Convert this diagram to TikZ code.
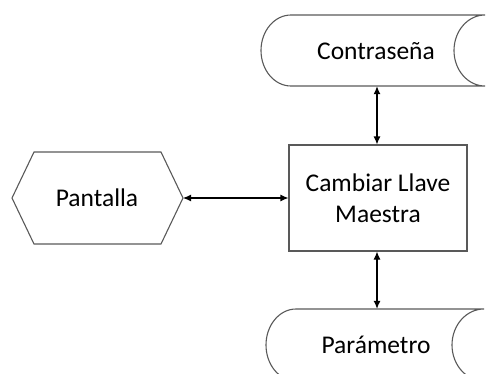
\documentclass[tikz,border=0pt]{standalone}
\usepackage{fontspec}
\setmainfont{Carlito}
\usetikzlibrary{arrows.meta}
\tikzset{
  outline/.style={draw=black!65, line width=1.1pt},
  lbl/.style={font=\fontsize{25.5}{30}\selectfont, align=center, inner sep=0pt},
  conn/.style={black, line width=1.1pt, {Latex[length=8pt,width=7pt]}-{Latex[length=8pt,width=7pt]}}
}
\begin{document}
\begin{tikzpicture}[x=1pt,y=-1pt]
\useasboundingbox (0,0) rectangle (488,373);
\begin{scope}
\clip (0,0) rectangle (488,373);
% Contraseña stored data
\node[lbl, minimum width=223pt, minimum height=71pt] (pw) at (372.5,50.5) {};
\draw[outline] (291,15) -- (485,15) arc[start angle=270, end angle=90, x radius=31, y radius=35.5] -- (291,86) arc[start angle=90, end angle=270, x radius=30, y radius=35.5] -- cycle;
\node[lbl] at (376,51) {Contraseña};
% Parámetro stored data
\node[lbl, minimum width=218pt, minimum height=72pt] (pa) at (375,345) {};
\draw[outline] (296,309) -- (484,309) arc[start angle=270, end angle=90, x radius=32, y radius=36] -- (296,381) arc[start angle=90, end angle=270, x radius=30, y radius=36] -- cycle;
\node[lbl] at (376,345) {Parámetro};
% Pantalla hexagon
\coordinate (hl) at (12,198);
\coordinate (hr) at (183,198);
\draw[outline] (hl) -- (34,152) -- (161,152) -- (hr) -- (161,244) -- (34,244) -- cycle;
\node[lbl] (pan) at (97,198) {Pantalla};
% Cambiar Llave Maestra
\node[outline, lbl, minimum width=178pt, minimum height=106pt] (cl) at (378,198) {Cambiar Llave\\[1pt]Maestra};
\end{scope}
\draw[conn] (hr) -- (cl.west);
\path (pw.south -| cl.north) ++(-1,0) coordinate (a1) (cl.north) ++(-1,0) coordinate (a2);
\draw[conn] (a1) -- (a2);
\path (cl.south) ++(-1,0) coordinate (b1) (pa.north -| b1) coordinate (b2);
\draw[conn] (b1) -- (b2);
\end{tikzpicture}
\end{document}
